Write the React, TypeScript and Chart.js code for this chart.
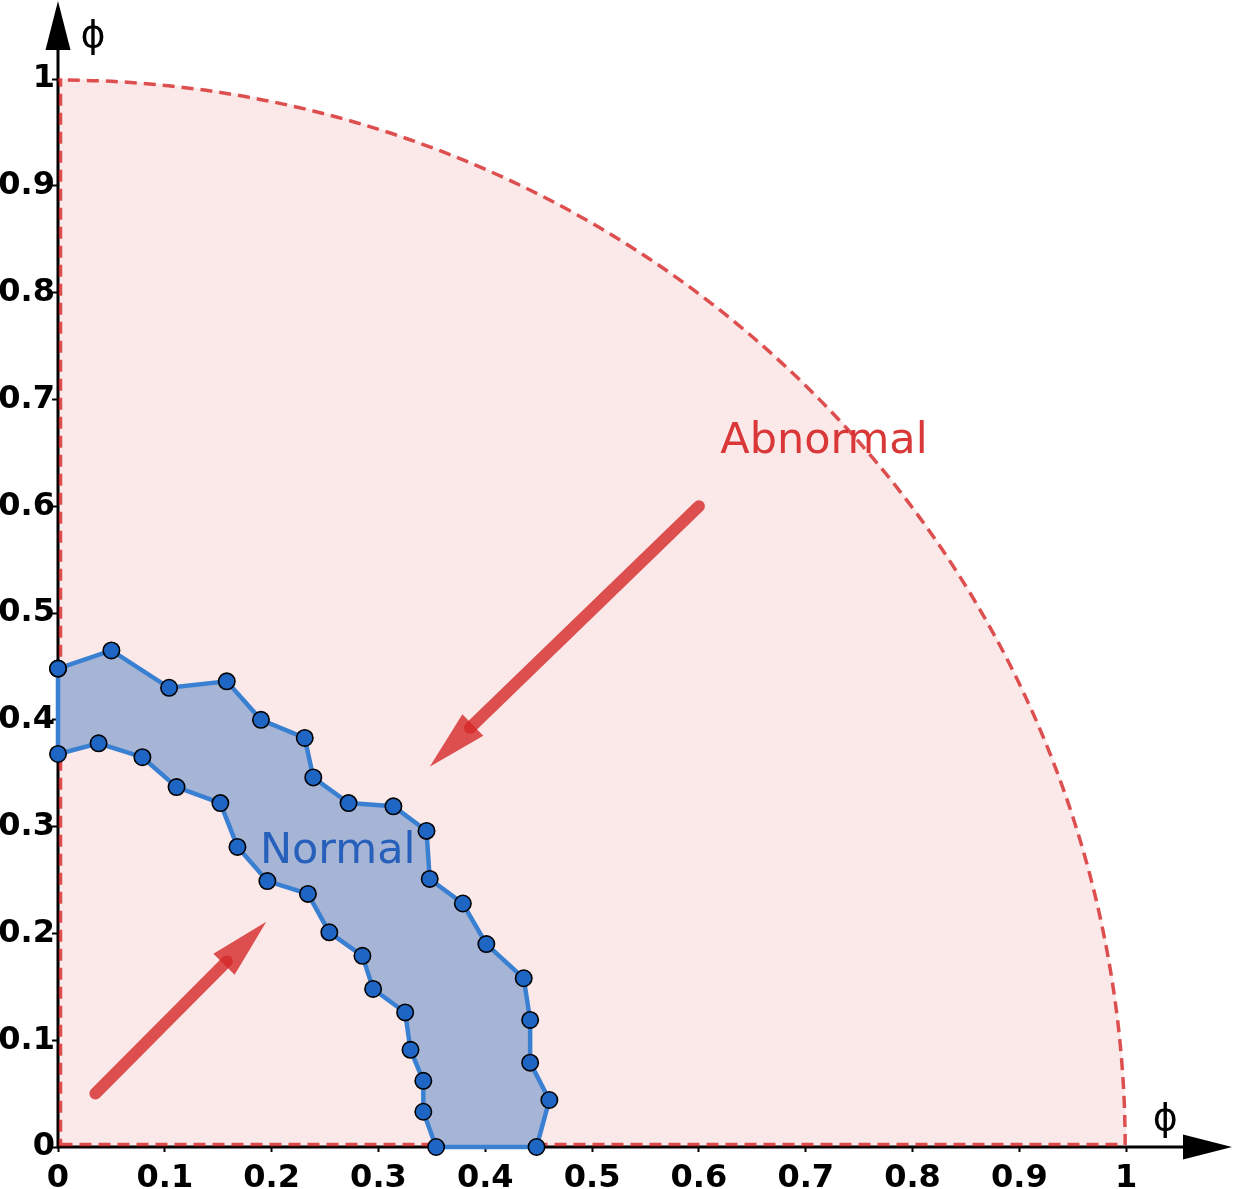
import { useEffect, useRef } from "react";
import { Chart, registerables } from "chart.js";

Chart.register(...registerables);

// Tick positions shared by both axes
const tickValues = [0, 0.1, 0.2, 0.3, 0.4, 0.5, 0.6, 0.7, 0.8, 0.9, 1];

// Outer edge of the normal band, from the y axis down to the x axis
const outerX = [0, 0.05, 0.104, 0.158, 0.19, 0.231, 0.239, 0.272, 0.314, 0.345, 0.348, 0.379, 0.401, 0.436, 0.442, 0.442, 0.46, 0.448];
const outerY = [0.448, 0.465, 0.43, 0.436, 0.4, 0.383, 0.346, 0.322, 0.319, 0.296, 0.251, 0.228, 0.19, 0.158, 0.119, 0.079, 0.044, 0];

// Inner edge of the normal band, from the y axis down to the x axis
const innerX = [0, 0.038, 0.079, 0.111, 0.152, 0.168, 0.196, 0.234, 0.254, 0.285, 0.295, 0.325, 0.33, 0.342, 0.342, 0.354];
const innerY = [0.368, 0.378, 0.365, 0.337, 0.322, 0.281, 0.249, 0.237, 0.201, 0.179, 0.148, 0.126, 0.091, 0.062, 0.033, 0];

// Arrows: [fromX, fromY, toX, toY]
const abnormalArrow = [0.6, 0.6, 0.348, 0.356];
const normalArrow = [0.035, 0.05, 0.195, 0.211];

// Region labels
const regionNames = ["Abnormal", "Normal"];
const regionX = [0.62, 0.189];
const regionY = [0.65, 0.266];

const axisTitle = "ϕ";
const X_MAX = 1.1;
const Y_MAX = 1.074;

const FONT = "'DejaVu Sans', Verdana, sans-serif";
const RED = "rgba(214, 39, 40, 0.8)";

type Pt = { x: number; y: number };

const outer: Pt[] = outerX.map((x, i) => ({ x, y: outerY[i] }));
const inner: Pt[] = innerX.map((x, i) => ({ x, y: innerY[i] }));
// closed boundary: outer edge, back along the inner edge, then up the y axis
const boundary: Pt[] = [...outer, ...inner.slice().reverse(), outer[0]];

function drawArrow(ctx: CanvasRenderingContext2D, x1: number, y1: number, x2: number, y2: number) {
  const headLen = 60;
  const headHalf = 15;
  const dx = x2 - x1;
  const dy = y2 - y1;
  const len = Math.hypot(dx, dy);
  const ux = dx / len;
  const uy = dy / len;
  const bx = x2 - ux * headLen;
  const by = y2 - uy * headLen;
  ctx.save();
  ctx.strokeStyle = RED;
  ctx.fillStyle = RED;
  ctx.lineWidth = 12;
  ctx.lineCap = "round";
  ctx.beginPath();
  ctx.moveTo(x1, y1);
  ctx.lineTo(bx + ux * 4, by + uy * 4);
  ctx.stroke();
  ctx.beginPath();
  ctx.moveTo(x2, y2);
  ctx.lineTo(bx - uy * headHalf, by + ux * headHalf);
  ctx.lineTo(bx + uy * headHalf, by - ux * headHalf);
  ctx.closePath();
  ctx.fill();
  ctx.restore();
}

const backdropPlugin = {
  id: "backdrop",
  beforeDatasetsDraw(chart: Chart) {
    const { ctx } = chart;
    const xs = chart.scales.x;
    const ys = chart.scales.y;
    const x0 = xs.getPixelForValue(0);
    const y0 = ys.getPixelForValue(0);
    const rx = xs.getPixelForValue(1) - x0;
    const ry = y0 - ys.getPixelForValue(1);
    ctx.save();

    // abnormal quarter disc
    ctx.beginPath();
    ctx.moveTo(x0, y0);
    ctx.lineTo(x0 + rx, y0);
    ctx.ellipse(x0, y0, rx, ry, 0, 0, -Math.PI / 2, true);
    ctx.closePath();
    ctx.fillStyle = "#fbe9e9";
    ctx.fill();

    // axes with arrow heads
    ctx.strokeStyle = "#000";
    ctx.fillStyle = "#000";
    ctx.lineWidth = 3;
    ctx.beginPath();
    ctx.moveTo(x0, y0 + 1.5);
    ctx.lineTo(x0, 48);
    ctx.moveTo(x0 - 1.5, y0);
    ctx.lineTo(chart.width - 48, y0);
    ctx.stroke();
    ctx.beginPath();
    ctx.moveTo(x0, 1);
    ctx.lineTo(x0 - 12.5, 50);
    ctx.lineTo(x0 + 12.5, 50);
    ctx.closePath();
    ctx.fill();
    ctx.beginPath();
    ctx.moveTo(chart.width - 1, y0);
    ctx.lineTo(chart.width - 50, y0 - 12.5);
    ctx.lineTo(chart.width - 50, y0 + 12.5);
    ctx.closePath();
    ctx.fill();

    // dashed outline of the disc
    const inset = 2.5;
    ctx.beginPath();
    ctx.moveTo(x0 + inset, y0 - inset);
    ctx.lineTo(x0 + rx - 1, y0 - inset);
    ctx.ellipse(x0, y0, rx - 1, ry - 1, 0, -0.002, -Math.PI / 2, true);
    ctx.lineTo(x0 + inset, y0 - ry + 1);
    ctx.closePath();
    ctx.setLineDash([12, 7]);
    ctx.strokeStyle = RED;
    ctx.lineWidth = 3.5;
    ctx.stroke();
    ctx.setLineDash([]);

    // normal band
    ctx.beginPath();
    boundary.forEach((p, i) => {
      const px = xs.getPixelForValue(p.x);
      const py = ys.getPixelForValue(p.y);
      if (i === 0) ctx.moveTo(px, py);
      else ctx.lineTo(px, py);
    });
    ctx.closePath();
    ctx.fillStyle = "#a6b4d6";
    ctx.fill();
    ctx.restore();
  },
  afterDatasetsDraw(chart: Chart) {
    const { ctx } = chart;
    const xs = chart.scales.x;
    const ys = chart.scales.y;
    const P = (v: number[]) => [
      xs.getPixelForValue(v[0]),
      ys.getPixelForValue(v[1]),
      xs.getPixelForValue(v[2]),
      ys.getPixelForValue(v[3]),
    ];
    const a = P(abnormalArrow);
    drawArrow(ctx, a[0], a[1], a[2], a[3]);
    const b = P(normalArrow);
    drawArrow(ctx, b[0], b[1], b[2], b[3]);

    ctx.save();
    ctx.font = `43px ${FONT}`;
    ctx.textAlign = "left";
    ctx.textBaseline = "alphabetic";
    const colors = ["rgba(214, 39, 40, 0.92)", "rgba(31, 92, 184, 0.95)"];
    regionNames.forEach((name, i) => {
      ctx.fillStyle = colors[i];
      ctx.fillText(name, xs.getPixelForValue(regionX[i]), ys.getPixelForValue(regionY[i]));
    });

    // axis titles beside the arrow heads
    ctx.fillStyle = "#000";
    ctx.font = `38px ${FONT}`;
    ctx.textAlign = "center";
    ctx.textBaseline = "middle";
    const x0 = xs.getPixelForValue(0);
    const y0 = ys.getPixelForValue(0);
    ctx.fillText(axisTitle, x0 + 35, 37);
    ctx.fillText(axisTitle, xs.getPixelForValue(1) + 39, y0 - 27);
    ctx.restore();
  },
};

const tickFont = { family: FONT, size: 32, weight: "bold" as const };

export default function App() {
  const ref = useRef<HTMLCanvasElement | null>(null);

  useEffect(() => {
    document.body.style.margin = "0";
    const canvas = ref.current;
    if (!canvas) return;
    const chart = new Chart(canvas, {
      type: "scatter",
      data: {
        datasets: [
          {
            data: boundary,
            showLine: true,
            borderColor: "#3a80d2",
            borderWidth: 4.5,
            pointRadius: 8.2,
            pointBorderWidth: 1.6,
            pointBorderColor: "#000",
            pointBackgroundColor: "#1f66c4",
            clip: false as any,
          },
        ],
      },
      options: {
        animation: false,
        responsive: false,
        events: [],
        layout: { padding: 0, autoPadding: false },
        plugins: { legend: { display: false }, tooltip: { enabled: false } },
        scales: {
          x: {
            type: "linear",
            min: 0,
            max: X_MAX,
            border: { display: false },
            grid: { drawOnChartArea: false, drawTicks: true, tickLength: 5, tickColor: "#000", tickWidth: 2 },
            ticks: {
              autoSkip: false,
              maxRotation: 0,
              padding: 7,
              color: "#000",
              font: tickFont,
              callback: (v: any) => String(v),
            },
            afterBuildTicks: (s: any) => {
              s.ticks = tickValues.map((value) => ({ value }));
            },
            afterFit: (s: any) => {
              s.height = 42;
              s.paddingLeft = 0;
              s.paddingRight = 0;
              s.paddingTop = 0;
              s.paddingBottom = 0;
            },
          },
          y: {
            type: "linear",
            min: 0,
            max: Y_MAX,
            border: { display: false },
            grid: { drawOnChartArea: false, drawTicks: true, tickLength: 6, tickColor: "#000", tickWidth: 2 },
            ticks: {
              autoSkip: false,
              padding: -3,
              color: "#000",
              font: tickFont,
              callback: (v: any) => String(v),
            },
            afterBuildTicks: (s: any) => {
              s.ticks = tickValues.map((value) => ({ value }));
            },
            afterFit: (s: any) => {
              s.width = 58;
              s.paddingLeft = 0;
              s.paddingRight = 0;
              s.paddingTop = 0;
              s.paddingBottom = 0;
            },
          },
        },
      },
      plugins: [backdropPlugin],
    });
    return () => chart.destroy();
  }, []);

  return (
    <div style={{ position: "fixed", left: 0, top: 0, width: 1233, height: 1189, background: "#fff" }}>
      <canvas ref={ref} width={1233} height={1189} style={{ display: "block" }} />
    </div>
  );
}
